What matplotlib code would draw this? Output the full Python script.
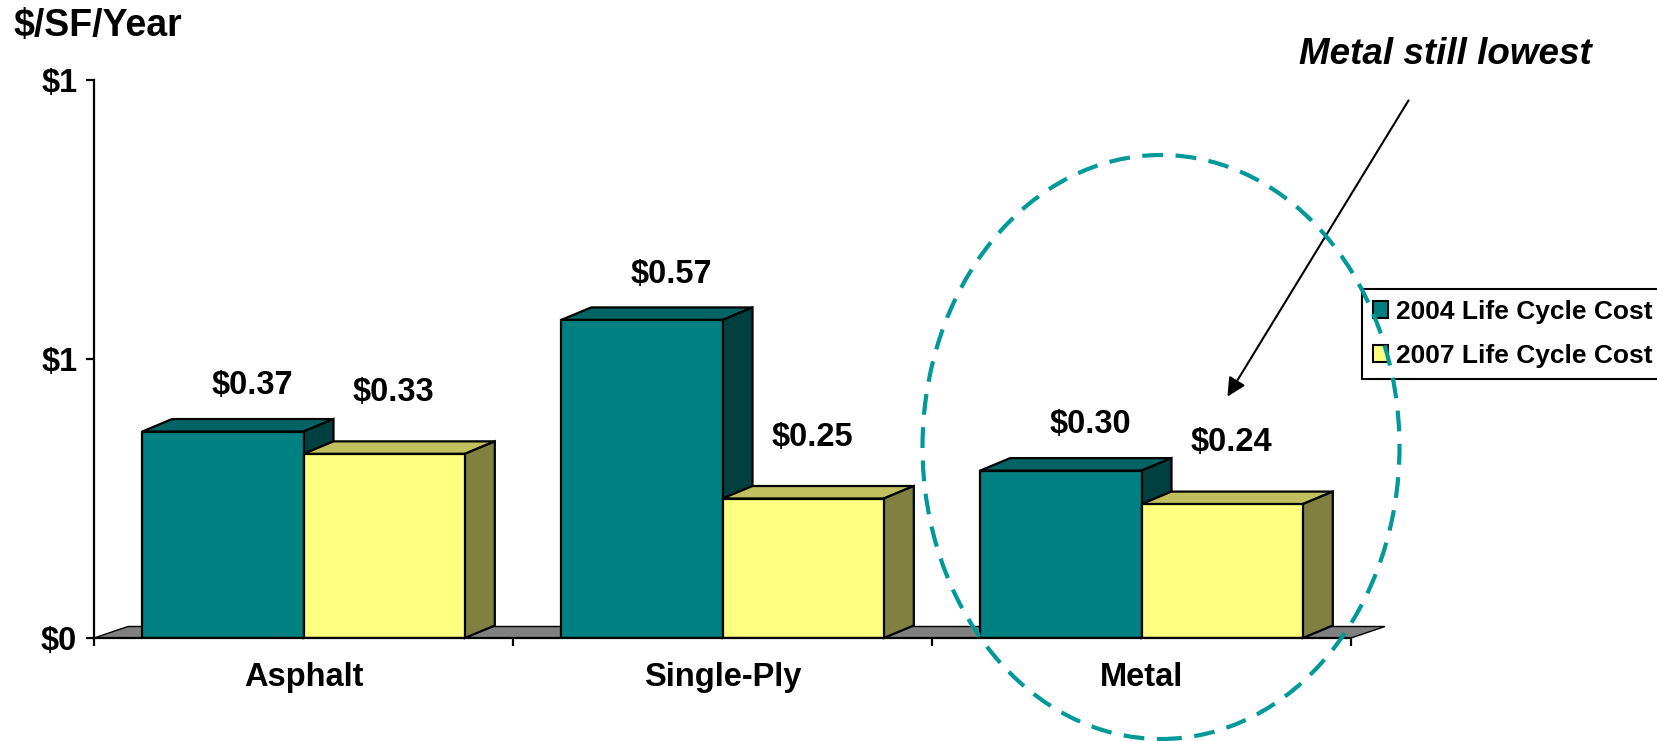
import matplotlib
matplotlib.use("Agg")
import matplotlib.pyplot as plt
from matplotlib.patches import Polygon, Ellipse, Patch

# ---- data ----
categories = ["Asphalt", "Single-Ply", "Metal"]
cost_2004 = [0.37, 0.57, 0.30]
cost_2007 = [0.33, 0.25, 0.24]
series_names = ["2004 Life Cycle Cost", "2007 Life Cycle Cost"]
y_ticks = [0.0, 0.5, 1.0]
y_tick_labels = ["$0", "$1", "$1"]

plt.rcParams["font.family"] = ["Liberation Sans", "DejaVu Sans"]
plt.rcParams["font.weight"] = "bold"

W, H = 1657, 741
fig = plt.figure(figsize=(W / 100, H / 100), dpi=100)
ax = fig.add_axes([94 / W, 1 - 638 / H, (1351 - 94) / W, (638 - 80) / H])
ax.set_xlim(0, len(categories))
ax.set_ylim(0, 1.0)

# colours: front / top / side faces
teal = ("#008080", "#006464", "#004040")
yellow = ("#FFFF80", "#C0C060", "#808040")

# depth of the pseudo-3D extrusion, in data units
dx, dy = 30 / 419, 12.5 / 558
fdx, fdy = 34 / 419, 11.5 / 558

# floor
ax.add_patch(Polygon([(0, 0), (len(categories), 0),
                      (len(categories) + fdx, fdy), (fdx, fdy)],
                     closed=True, facecolor="#808080", edgecolor="black",
                     lw=1.0, clip_on=False, zorder=1))

bw = 0.385
centers = [i + 0.5 for i in range(len(categories))]


def draw_bar(x_center, value, faces, z):
    bar = ax.bar([x_center], [value], width=bw, color=faces[0],
                 edgecolor="black", linewidth=1.6, zorder=z + 0.2)[0]
    x0 = bar.get_x()
    x1 = x0 + bar.get_width()
    h = bar.get_height()
    top = Polygon([(x0, h), (x1, h), (x1 + dx, h + dy), (x0 + dx, h + dy)],
                  closed=True, facecolor=faces[1], edgecolor="black",
                  lw=1.6, clip_on=False, zorder=z)
    side = Polygon([(x1, 0), (x1 + dx, dy), (x1 + dx, h + dy), (x1, h)],
                   closed=True, facecolor=faces[2], edgecolor="black",
                   lw=1.6, clip_on=False, zorder=z)
    ax.add_patch(top)
    ax.add_patch(side)
    return bar


for i, c in enumerate(centers):
    draw_bar(c - bw / 2, cost_2004[i], teal, 2 + i * 2)
    draw_bar(c + bw / 2, cost_2007[i], yellow, 3 + i * 2)
    ax.annotate(f"${cost_2004[i]:.2f}", xy=(c - bw / 2, cost_2004[i]),
                xytext=(21, 33), textcoords="offset points",
                ha="center", va="center", fontsize=23.5, fontweight="bold")
    ax.annotate(f"${cost_2007[i]:.2f}", xy=(c + bw / 2, cost_2007[i]),
                xytext=(7, 44), textcoords="offset points",
                ha="center", va="center", fontsize=23.5, fontweight="bold")

# axes styling
for s in ("top", "right"):
    ax.spines[s].set_visible(False)
for s in ("left", "bottom"):
    ax.spines[s].set_linewidth(1.6)
    ax.spines[s].set_zorder(20)
ax.set_yticks(y_ticks)
ax.set_yticklabels(y_tick_labels, fontsize=23.5, fontweight="bold")
ax.tick_params(axis="y", direction="out", length=6, width=1.6, pad=6)
ax.set_xticks(range(len(categories) + 1))
ax.set_xticklabels([""] * (len(categories) + 1))
ax.tick_params(axis="x", which="major", direction="out", length=6, width=1.6)
ax.set_xticks(centers, minor=True)
ax.set_xticklabels(categories, minor=True, fontsize=23.5, fontweight="bold")
ax.tick_params(axis="x", which="minor", length=0, pad=17)

fig.text(13 / W, 1 - 26 / H, "$/SF/Year", ha="left", va="center",
         fontsize=27, fontweight="bold")

# legend
handles = [Patch(facecolor=teal[0], edgecolor="black", lw=1.5),
           Patch(facecolor=yellow[0], edgecolor="black", lw=1.5)]
leg = fig.legend(handles, series_names, loc="upper left",
                 bbox_to_anchor=(1362 / W, 1 - 289 / H), borderaxespad=0,
                 prop={"weight": "bold", "size": 19},
                 frameon=True, fancybox=False, framealpha=1,
                 handlelength=0.6, handleheight=0.6, handletextpad=0.3,
                 borderpad=0.4, labelspacing=0.78)
leg.get_frame().set_edgecolor("black")
leg.get_frame().set_linewidth(1.5)

# callout
fig.text(1445 / W, 1 - 54 / H, "Metal still lowest", ha="center", va="center",
         fontsize=26.5, fontweight="bold", fontstyle="italic")
fig.add_artist(matplotlib.patches.FancyArrowPatch(
    (1410 / W, 1 - 98 / H), (1226 / W, 1 - 399 / H),
    transform=fig.transFigure, arrowstyle="-|>", mutation_scale=28,
    color="black", lw=1.5))
fig.add_artist(Ellipse((1161 / W, 1 - 447 / H), 477 / W, 584 / H,
                       transform=fig.transFigure, fill=False,
                       edgecolor="#009999", lw=3, linestyle=(0, (5, 3)),
                       zorder=30))

fig.savefig("out.png", dpi=100)
